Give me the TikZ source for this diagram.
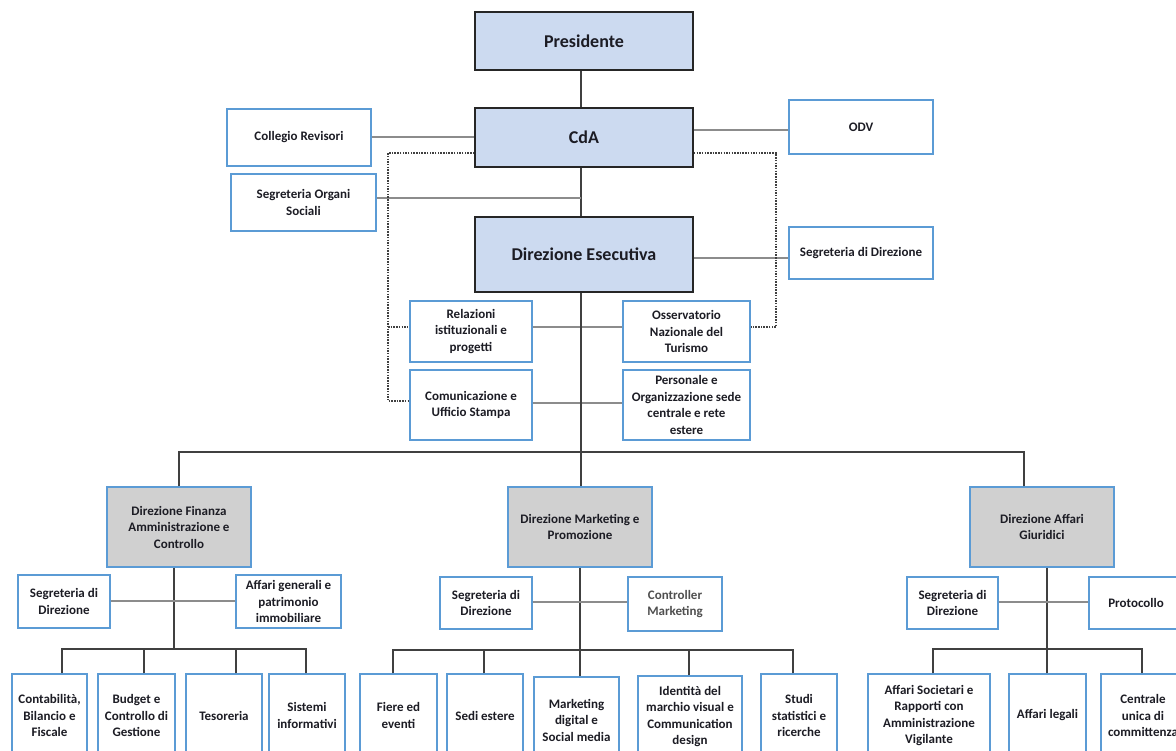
\documentclass[tikz,border=0pt]{standalone}
\usepackage{fontspec}
\setmainfont{Carlito}
\definecolor{topfill}{HTML}{CCDAF0}
\definecolor{topdraw}{HTML}{262626}
\definecolor{blueb}{HTML}{5B9BD5}
\definecolor{grayfill}{HTML}{D0D0D0}
\definecolor{lineD}{HTML}{404040}
\definecolor{lineL}{HTML}{8C8C8C}
\definecolor{txt}{HTML}{1C1C24}
\definecolor{ctrtxt}{HTML}{4F4F4F}
\tikzset{
 topbox/.style={draw=topdraw, fill=topfill, line width=1.6pt, font=\bfseries\fontsize{18}{22}\selectfont, text=txt, inner sep=0pt, align=center},
 wbox/.style={draw=blueb, fill=white, line width=1.5pt, font=\bfseries\fontsize{13}{16.5}\selectfont, text=txt, inner sep=0pt, align=center},
 gbox/.style={wbox, fill=grayfill},
 conn/.style={draw=lineD, line width=1.3pt},
 sconn/.style={draw=lineL, line width=1.3pt},
 dotc/.style={draw=lineD, line width=1.2pt, dash pattern=on 1.5pt off 1.2pt},
}
\newcommand\orgbox[7]{%
 \pgfmathsetmacro\bxw{#4-#2}\pgfmathsetmacro\bxh{#5-#3}%
 \node[#6, minimum width=\bxw pt, minimum height=\bxh pt] (#1) at ({(#2+#4)/2},{(#3+#5)/2}) {#7};}
\begin{document}
\begin{tikzpicture}[x=1pt,y=-1pt]
\useasboundingbox (0,0) rectangle (1176,751);
\clip (0,0) rectangle (1176,751);
\fill[white] (0,0) rectangle (1176,751);
% top level
\orgbox{pres}{475}{12}{693}{70}{topbox}{Presidente}
\orgbox{cda}{475}{108}{693}{167}{topbox}{CdA}
\orgbox{de}{475}{217}{693}{292}{topbox}{Direzione Esecutiva}
\orgbox{col}{227}{109}{371}{166}{wbox}{Collegio Revisori}
\orgbox{odv}{789}{100}{933}{154}{wbox}{ODV}
\orgbox{sos}{231}{174}{376}{231}{wbox}{Segreteria Organi\\Sociali}
\orgbox{sdd}{789}{227}{933}{279}{wbox}{Segreteria di Direzione}
\orgbox{rel}{410}{301}{532}{362}{wbox}{Relazioni\\istituzionali e\\progetti}
\orgbox{oss}{623}{301}{750}{362}{wbox}{Osservatorio\\Nazionale del\\Turismo}
\orgbox{com}{410}{370}{532}{440}{wbox}{Comunicazione e\\Ufficio Stampa}
\orgbox{per}{623}{370}{750}{440}{wbox}{Personale e\\Organizzazione sede\\centrale e rete\\estere}
% helper coordinates
\coordinate (cx) at (581,0);
\coordinate (y137) at (0,137);
\coordinate (y130) at (0,130);
\coordinate (y153) at (0,153);
\coordinate (sosj) at (581,198);
\coordinate (y258) at (0,258);
\coordinate (y327) at (0,327);
\coordinate (y401) at (0,401);
\coordinate (y403) at (0,403);
\coordinate (dl) at (388,401);
\coordinate (dlm) at (388,327);
\coordinate (dr) at (776,327);
\coordinate (bus) at (581,452);
% top connectors
\draw[conn] (pres.south -| cx) -- (cda.north -| cx);
\draw[conn] (cda.south -| cx) -- (de.north -| cx);
\draw[sconn] (col.east |- y137) -- (cda.west |- y137);
\draw[sconn] (cda.east |- y130) -- (odv.west |- y130);
\draw[sconn] (sos.east |- sosj) -- (sosj);
\draw[sconn] (de.east |- y258) -- (sdd.west |- y258);
\draw[dotc] (cda.west |- y153) -| (dl) -- (com.west |- y401);
\draw[dotc] (dlm) -- (rel.west |- y327);
\draw[dotc] (cda.east |- y153) -| (dr) -- (oss.east |- y327);
\draw[sconn] (rel.east |- y327) -- (oss.west |- y327);
\draw[sconn] (com.east |- y403) -- (per.west |- y403);
\draw[conn] (de.south -| cx) -- (bus);
% second level
\orgbox{df}{107}{487}{251}{567}{gbox}{Direzione Finanza\\Amministrazione e\\Controllo}
\orgbox{dmp}{508}{487}{652}{567}{gbox}{Direzione Marketing e\\Promozione}
\orgbox{dag}{970}{487}{1114}{567}{gbox}{Direzione Affari\\Giuridici}
\coordinate (dagt) at (1024,0);
\draw[conn] (df.north) |- (bus);
\draw[conn] (dmp.north -| cx) -- (bus);
\draw[conn] (dag.north -| dagt) |- (bus);
% finance branch
\orgbox{dfs}{18}{575}{110}{628}{wbox}{Segreteria di\\Direzione}
\orgbox{dfa}{236}{575}{341}{628}{wbox}{Affari generali e\\patrimonio\\immobiliare}
\orgbox{cont}{12}{674}{87}{757}{wbox}{Contabilità,\\Bilancio e\\Fiscale}
\orgbox{bud}{98}{674}{175}{757}{wbox}{Budget e\\Controllo di\\Gestione}
\orgbox{tes}{186}{674}{262}{757}{wbox}{Tesoreria}
\orgbox{sis}{269}{674}{345}{757}{wbox}{Sistemi\\informativi}
\coordinate (dfv) at (174,649);
\coordinate (y601) at (0,601);
\coordinate (f1) at (62,0);
\coordinate (f2) at (144,0);
\coordinate (f3) at (236,0);
\coordinate (f4) at (306,0);
\draw[conn] (df.south -| dfv) -- (dfv);
\draw[sconn] (dfs.east |- y601) -- (dfa.west |- y601);
\draw[conn] (cont.north -| f1) |- (dfv);
\draw[conn] (bud.north -| f2) |- (dfv);
\draw[conn] (tes.north -| f3) |- (dfv);
\draw[conn] (sis.north -| f4) |- (dfv);
% marketing branch
\orgbox{dms}{440}{577}{532}{629}{wbox}{Segreteria di\\Direzione}
\node[wbox, text=ctrtxt, line width=1.8pt, minimum width=94pt, minimum height=54pt] (ctr) at (675,604) {Controller\\Marketing};
\orgbox{fie}{360}{674}{437}{757}{wbox}{Fiere ed\\eventi}
\orgbox{sed}{447}{674}{523}{757}{wbox}{Sedi estere}
\orgbox{mdg}{534}{677}{619}{763}{wbox}{Marketing\\digital e\\Social media}
\orgbox{ide}{638}{676}{742}{757}{wbox}{Identità del\\marchio visual e\\Communication\\design}
\orgbox{stu}{761}{674}{837}{757}{wbox}{Studi\\statistici e\\ricerche}
\coordinate (mv) at (580,650);
\coordinate (y602) at (0,602);
\coordinate (m1) at (393,0);
\coordinate (m2) at (484,0);
\coordinate (m4) at (689,0);
\coordinate (m5) at (793,0);
\draw[conn] (dmp.south -| mv) -- (mv);
\draw[sconn] (dms.east |- y602) -- (ctr.west |- y602);
\draw[conn] (fie.north -| m1) |- (mv);
\draw[conn] (sed.north -| m2) |- (mv);
\draw[conn] (mdg.north -| mv) -- (mv);
\draw[conn] (ide.north -| m4) |- (mv);
\draw[conn] (stu.north -| m5) |- (mv);
% legal branch
\orgbox{dgs}{907}{577}{998}{629}{wbox}{Segreteria di\\Direzione}
\orgbox{pro}{1089}{577}{1183}{629}{wbox}{Protocollo}
\orgbox{aso}{868}{674}{990}{757}{wbox}{Affari Societari e\\Rapporti con\\Amministrazione\\Vigilante}
\orgbox{ale}{1009}{674}{1086}{757}{wbox}{Affari legali}
\orgbox{cen}{1101}{674}{1185}{757}{wbox}{Centrale\\unica di\\committenza}
\coordinate (gv) at (1047,649);
\coordinate (g1) at (933,0);
\coordinate (g3) at (1142,0);
\draw[conn] (dag.south -| gv) -- (gv);
\draw[sconn] (dgs.east |- y602) -- (pro.west |- y602);
\draw[conn] (aso.north -| g1) |- (gv);
\draw[conn] (ale.north -| gv) -- (gv);
\draw[conn] (cen.north -| g3) |- (gv);
\end{tikzpicture}
\end{document}
